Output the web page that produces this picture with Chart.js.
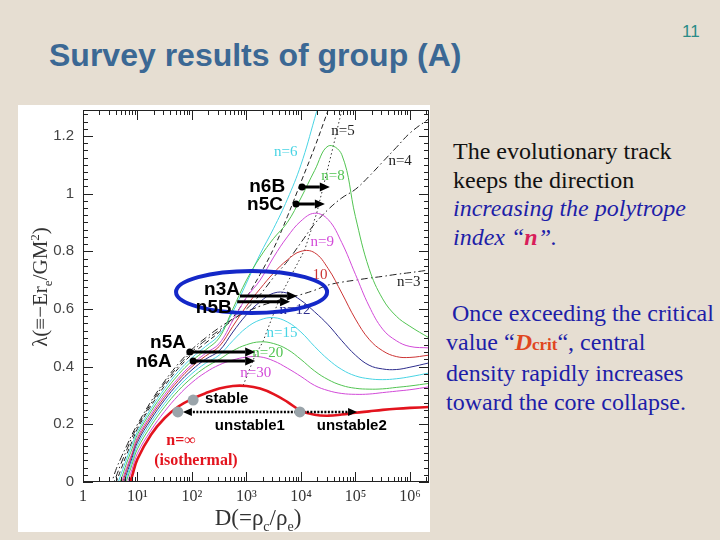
<!DOCTYPE html>
<html lang="en">
<head>
<meta charset="UTF-8">
<title>Survey results of group (A)</title>
<style>
  body{margin:0;width:720px;height:540px;background:#e6ded2;position:relative;overflow:hidden;font-family:"Liberation Sans",Arial,sans-serif}
  #title{position:absolute;left:49px;top:37px;font-size:32px;font-weight:bold;color:#3b6894;white-space:nowrap}
  #page{position:absolute;left:682px;top:22px;font-size:17px;color:#2a8c88}
  #panel{position:absolute;left:18px;top:105px;width:412px;height:427px;background:#fff}
  #panel canvas{position:absolute;left:0;top:0}
  .ytitle{position:absolute;left:-65px;top:274px;width:200px;height:26px;line-height:26px;text-align:center;transform:rotate(-90deg);font-family:"Liberation Serif",serif;font-size:21px;color:#333;white-space:nowrap}
  .xtitle{position:absolute;left:183px;top:504px;width:150px;height:28px;line-height:28px;text-align:center;font-family:"Liberation Serif",serif;font-size:23px;color:#333;white-space:nowrap}
  .txt{position:absolute;font-family:"Liberation Serif","Times New Roman",serif;font-size:24px;line-height:28.7px;white-space:nowrap}
  #t1{left:453px;top:137px;color:#111}
  #t2{left:446px;top:299px;color:#1e1ea8}
  .blue{color:#1e1ea8}
  .pink{color:#d81e5a;font-weight:bold}
  .dcrit{color:#e0461e;font-weight:bold}
  .crit{color:#e0461e;font-style:normal;font-size:17px}
</style>
</head>
<body>
<div id="title">Survey results of group (A)</div>
<div id="page">11</div>
<div id="panel"><canvas id="chart" width="412" height="427"></canvas></div>
<div class="ytitle">λ(≡−Er<sub style="font-size:13px">e</sub>/GM<sup style="font-size:13px">2</sup>)</div>
<div class="xtitle">D(=ρ<sub style="font-size:14px">c</sub>/ρ<sub style="font-size:14px">e</sub>)</div>
<div class="txt" id="t1">The evolutionary track<br>keeps the direction<br><span class="blue"><i>increasing the polytrope<br>index “<span class="pink">n</span>”.</i></span></div>
<div class="txt" id="t2">&nbsp;Once exceeding the critical<br>value “<i class="dcrit">D<span class="crit">crit</span></i>“, central<br>density rapidly increases<br>toward the core collapse.</div>

<script src="https://cdn.jsdelivr.net/npm/chart.js"></script>
<script>
// D = rho_c / rho_e sampling (log-spaced)
const densityRatio = [3.16, 3.98, 5.01, 6.31, 7.94, 10, 17.8, 31.6, 56.2, 100, 178, 316, 562, 1000, 1780, 3160, 5620, 1e4, 1.78e4, 3.16e4, 5.62e4, 1e5, 1.78e5, 3.16e5, 5.62e5, 1e6, 2.24e6]

// lambda for each polytrope index
const lamN3  = [-0.02, 0.04, 0.085, 0.125, 0.165, 0.20, 0.28, 0.35, 0.41, 0.46, 0.50, 0.535, 0.565, 0.59, 0.61, 0.625, 0.638, 0.65, 0.665, 0.683, 0.693, 0.70, 0.707, 0.713, 0.72, 0.726, 0.735]
const lamN4  = [-0.03, 0.015, 0.065, 0.11, 0.155, 0.193, 0.273, 0.343, 0.402, 0.452, 0.492, 0.526, 0.562, 0.60, 0.65, 0.71, 0.765, 0.83, 0.895, 0.945, 0.985, 1.015, 1.06, 1.11, 1.16, 1.21, 1.26]
const lamN5  = [null, -0.005, 0.045, 0.095, 0.14, 0.185, 0.265, 0.334, 0.394, 0.443, 0.482, 0.52, 0.57, 0.64, 0.72, 0.81, 0.92, 1.04, 1.16, 1.29, 1.42, null, null, null, null, null, null]
const lamN6  = [null, -0.025, 0.028, 0.08, 0.13, 0.175, 0.255, 0.324, 0.383, 0.431, 0.47, 0.51, 0.59, 0.69, 0.79, 0.88, 0.98, 1.1, 1.26, 1.43, null, null, null, null, null, null, null]
const lamN8  = [null, -0.04, 0.01, 0.065, 0.115, 0.165, 0.245, 0.313, 0.372, 0.42, 0.458, 0.50, 0.60, 0.70, 0.78, 0.845, 0.90, 0.985, 1.08, 1.165, 1.135, 0.92, 0.74, 0.635, 0.575, 0.54, 0.50]
const lamN9  = [null, null, -0.005, 0.05, 0.10, 0.155, 0.235, 0.303, 0.36, 0.408, 0.446, 0.48, 0.56, 0.64, 0.70, 0.78, 0.85, 0.905, 0.932, 0.91, 0.83, 0.72, 0.61, 0.53, 0.49, 0.47, 0.465]
const lamN10 = [null, null, -0.016, 0.04, 0.093, 0.147, 0.227, 0.294, 0.352, 0.40, 0.437, 0.47, 0.54, 0.61, 0.67, 0.725, 0.77, 0.80, 0.795, 0.74, 0.655, 0.565, 0.495, 0.455, 0.435, 0.432, 0.44]
const lamN12 = [null, null, -0.028, 0.028, 0.083, 0.138, 0.218, 0.285, 0.342, 0.389, 0.426, 0.455, 0.52, 0.58, 0.625, 0.655, 0.655, 0.63, 0.59, 0.545, 0.49, 0.44, 0.405, 0.392, 0.39, 0.398, 0.413]
const lamN15 = [null, null, -0.039, 0.017, 0.072, 0.127, 0.207, 0.273, 0.33, 0.376, 0.412, 0.44, 0.49, 0.535, 0.562, 0.57, 0.555, 0.52, 0.47, 0.425, 0.39, 0.368, 0.358, 0.355, 0.358, 0.365, 0.378]
const lamN20 = [null, null, -0.05, 0.005, 0.06, 0.115, 0.195, 0.261, 0.317, 0.362, 0.398, 0.425, 0.455, 0.476, 0.486, 0.48, 0.46, 0.425, 0.385, 0.355, 0.335, 0.325, 0.322, 0.323, 0.328, 0.333, 0.342]
const lamN30 = [null, null, null, -0.011, 0.044, 0.10, 0.18, 0.245, 0.30, 0.345, 0.38, 0.406, 0.423, 0.433, 0.434, 0.42, 0.395, 0.366, 0.335, 0.317, 0.307, 0.304, 0.305, 0.31, 0.315, 0.32, 0.33]
const lamIso = [null, null, null, -0.035, 0.02, 0.08, 0.165, 0.222, 0.262, 0.288, 0.308, 0.324, 0.333, 0.333, 0.324, 0.305, 0.278, 0.247, 0.233, 0.23, 0.234, 0.24, 0.245, 0.25, 0.254, 0.257, 0.26]

// locus of the maxima (D_crit)
const critD   = [871, 1410, 2000, 2950, 4470, 11700, 19500, 38900, 56200]
const critLam = [0.335, 0.435, 0.486, 0.57, 0.655, 0.805, 0.933, 1.162, 1.29]

// axis ticks
const xTickVals = [1, 10, 100, 1e3, 1e4, 1e5, 1e6]
const xTickLabels = ['1', '10¹', '10²', '10³', '10⁴', '10⁵', '10⁶']
const yTickVals = [0, 0.2, 0.4, 0.6, 0.8, 1, 1.2]
const yTickLabels = ['0', '0.2', '0.4', '0.6', '0.8', '1', '1.2']

// curve labels
const curveTagText = ['n=6', 'n=5', 'n=4', 'n=8', 'n=9', '10', 'n=3', 'n=12', 'n=15', 'n=20', 'n=30', 'n=∞', '(isothermal)']
const curveTagD    = [5250, 58900, 661000, 38900, 24500, 22400, 955000, 7760, 4470, 2450, 1480, 63, 118]
const curveTagLam  = [1.145, 1.217, 1.113, 1.061, 0.832, 0.718, 0.694, 0.597, 0.517, 0.447, 0.378, 0.142, 0.073]

// model tags and their evolution arrows
const tagText = ['n6B', 'n5C', 'n3A', 'n5B', 'n5A', 'n6A', 'stable', 'unstable1', 'unstable2']
const tagD    = [5130, 4680, 759, 537, 77.6, 42.7, 174, 263, 19500]
const tagLam  = [1.023, 0.961, 0.666, 0.604, 0.482, 0.416, 0.288, 0.194, 0.194]
const arrowFromD = [10470, 8130, 759, 676, 91.2, 105]
const arrowToD   = [33900, 27500, 8510, 6310, 1445, 1445]
const arrowLam   = [1.023, 0.964, 0.645, 0.625, 0.451, 0.42]
const grayDotD   = [105, 55, 9550]
const grayDotLam = [0.284, 0.243, 0.243]
const ellipseD   = [51, 30200]
const ellipseLam = [0.586, 0.732]

const pts = (xs, ys) => xs.map((x, i) => ({x: x, y: ys[i]}))

function curve(label, vals, color, width, dash) {
  return {label: label, data: pts(densityRatio, vals), borderColor: color, borderWidth: width,
    borderDash: dash || [], pointRadius: 0, tension: 0.4, fill: false, spanGaps: false}
}

const datasets = [
  curve('n=∞', lamIso, '#e3141e', 2.6),
  curve('n=30', lamN30, '#d24ad8', 1),
  curve('n=20', lamN20, '#52c452', 1),
  curve('n=15', lamN15, '#48d4e4', 1),
  curve('n=12', lamN12, '#2c2c8c', 1),
  curve('n=10', lamN10, '#cc3434', 1),
  curve('n=9', lamN9, '#d24ad8', 1),
  curve('n=8', lamN8, '#52c452', 1),
  curve('n=6', lamN6, '#48d4e4', 1),
  curve('n=5', lamN5, '#222', 1, [5, 3]),
  curve('n=4', lamN4, '#222', 1, [7, 3, 1.5, 3]),
  curve('n=3', lamN3, '#222', 1, [7, 3, 1.5, 3]),
  {label: 'crit', data: pts(critD, critLam), borderColor: '#333', borderWidth: 1, borderDash: [1.5, 2.5],
    pointRadius: 0, tension: 0, fill: false}
]

function arrow(ctx, x1, y, x2, w, head) {
  const d = Math.sign(x2 - x1)
  ctx.lineWidth = w
  ctx.beginPath(); ctx.moveTo(x1, y); ctx.lineTo(x2 - head * d, y); ctx.stroke()
  ctx.beginPath(); ctx.moveTo(x2, y); ctx.lineTo(x2 - d * head, y - head * 0.45); ctx.lineTo(x2 - d * head, y + head * 0.45); ctx.closePath(); ctx.fill()
}

const frame = {
  id: 'frame',
  afterDraw(chart) {
    const {ctx, chartArea: a, scales: {x, y}} = chart
    ctx.save()
    ctx.strokeStyle = '#222'; ctx.lineWidth = 1
    ctx.strokeRect(a.left + 0.5, a.top + 0.5, a.right - a.left - 1, a.bottom - a.top - 1)
    ctx.beginPath()
    for (let e = 0; e <= 6; e++) {
      for (let s = 1; s <= 9; s++) {
        const v = s * Math.pow(10, e)
        if (v > x.max) break
        const px = Math.round(x.getPixelForValue(v)) + 0.5
        const len = s === 1 ? 10 : 5
        ctx.moveTo(px, a.bottom); ctx.lineTo(px, a.bottom - len)
        ctx.moveTo(px, a.top); ctx.lineTo(px, a.top + len)
      }
    }
    for (let k = 0; k * 0.025 <= y.max; k++) {
      const py = Math.round(y.getPixelForValue(k * 0.025)) + 0.5
      const len = k % 8 === 0 ? 10 : 5
      ctx.moveTo(a.left, py); ctx.lineTo(a.left + len, py)
      ctx.moveTo(a.right, py); ctx.lineTo(a.right - len, py)
    }
    ctx.stroke()
    ctx.restore()
  }
}

const notes = {
  id: 'notes',
  afterDatasetsDraw(chart) {
    const {ctx, scales: {x, y}} = chart
    ctx.save()
    // curve labels
    const tagColors = ['#48d4e4', '#222', '#222', '#52c452', '#d24ad8', '#cc3434', '#222', '#2c2c8c', '#48d4e4', '#52c452', '#d24ad8', '#e3141e', '#e3141e']
    ctx.textAlign = 'center'; ctx.textBaseline = 'middle'
    curveTagText.forEach((t, i) => {
      ctx.font = i >= 11 ? 'bold 16px "Liberation Serif"' : '15px "Liberation Serif"'
      ctx.fillStyle = tagColors[i]
      ctx.fillText(t, x.getPixelForValue(curveTagD[i]), y.getPixelForValue(curveTagLam[i]))
    })
    // ellipse
    const ex1 = x.getPixelForValue(ellipseD[0]), ex2 = x.getPixelForValue(ellipseD[1])
    const ey1 = y.getPixelForValue(ellipseLam[0]), ey2 = y.getPixelForValue(ellipseLam[1])
    ctx.strokeStyle = '#1428c8'; ctx.lineWidth = 4
    ctx.beginPath()
    ctx.ellipse((ex1 + ex2) / 2, (ey1 + ey2) / 2, (ex2 - ex1) / 2, (ey1 - ey2) / 2, 0, 0, Math.PI * 2)
    ctx.stroke()
    // arrows
    ctx.strokeStyle = '#000'; ctx.fillStyle = '#000'
    arrowFromD.forEach((d, i) => {
      const py = y.getPixelForValue(arrowLam[i])
      const x1 = x.getPixelForValue(d), x2 = x.getPixelForValue(arrowToD[i])
      arrow(ctx, x1, py, x2, 3, 10)
      if (i !== 2 && i !== 3) { ctx.beginPath(); ctx.arc(x1, py, 3.5, 0, Math.PI * 2); ctx.fill() }
    })
    // dotted arrows for unstable branches
    const uy = y.getPixelForValue(grayDotLam[2])
    const ux = x.getPixelForValue(grayDotD[2])
    ctx.setLineDash([2, 1.5])
    arrow(ctx, ux, uy, x.getPixelForValue(68), 2.5, 9)
    arrow(ctx, ux, uy, x.getPixelForValue(107000), 2.5, 9)
    ctx.setLineDash([])
    // gray state dots
    ctx.fillStyle = '#9aa4aa'
    grayDotD.forEach((d, i) => {
      ctx.beginPath(); ctx.arc(x.getPixelForValue(d), y.getPixelForValue(grayDotLam[i]), 5.5, 0, Math.PI * 2); ctx.fill()
    })
    // tags
    ctx.fillStyle = '#000'
    tagText.forEach((t, i) => {
      ctx.font = i < 6 ? 'bold 19px "Liberation Sans"' : 'bold 15px "Liberation Sans"'
      ctx.textAlign = i < 6 ? 'right' : 'left'
      ctx.fillText(t, x.getPixelForValue(tagD[i]), y.getPixelForValue(tagLam[i]))
    })
    ctx.restore()
  }
}

new Chart(document.getElementById('chart'), {
  type: 'line',
  data: {datasets: datasets},
  plugins: [frame, notes],
  options: {
    responsive: false,
    animation: false,
    layout: {padding: {top: 5, right: 1, left: 0, bottom: 0}},
    plugins: {legend: {display: false}, tooltip: {enabled: false}},
    scales: {
      x: {
        type: 'logarithmic', min: 1, max: 2238721,
        afterBuildTicks: s => { s.ticks = xTickVals.map(v => ({value: v})) },
        afterFit: s => { s.height = 50; s.paddingLeft = 0; s.paddingRight = 0 },
        grid: {display: false, drawTicks: false}, border: {display: false},
        ticks: {autoSkip: false, maxRotation: 0, padding: 5, color: '#333',
          font: {family: '"Liberation Serif"', size: 16},
          callback: (v) => xTickLabels[xTickVals.indexOf(v)]}
      },
      y: {
        type: 'linear', min: 0, max: 1.29,
        afterBuildTicks: s => { s.ticks = yTickVals.map(v => ({value: v})) },
        afterFit: s => { s.width = 65; s.paddingTop = 0; s.paddingBottom = 0 },
        grid: {display: false, drawTicks: false}, border: {display: false},
        ticks: {padding: 9, color: '#444', font: {family: '"Liberation Sans"', size: 15},
          callback: (v) => yTickLabels[yTickVals.indexOf(v)]}
      }
    }
  }
})
</script>
</body>
</html>
